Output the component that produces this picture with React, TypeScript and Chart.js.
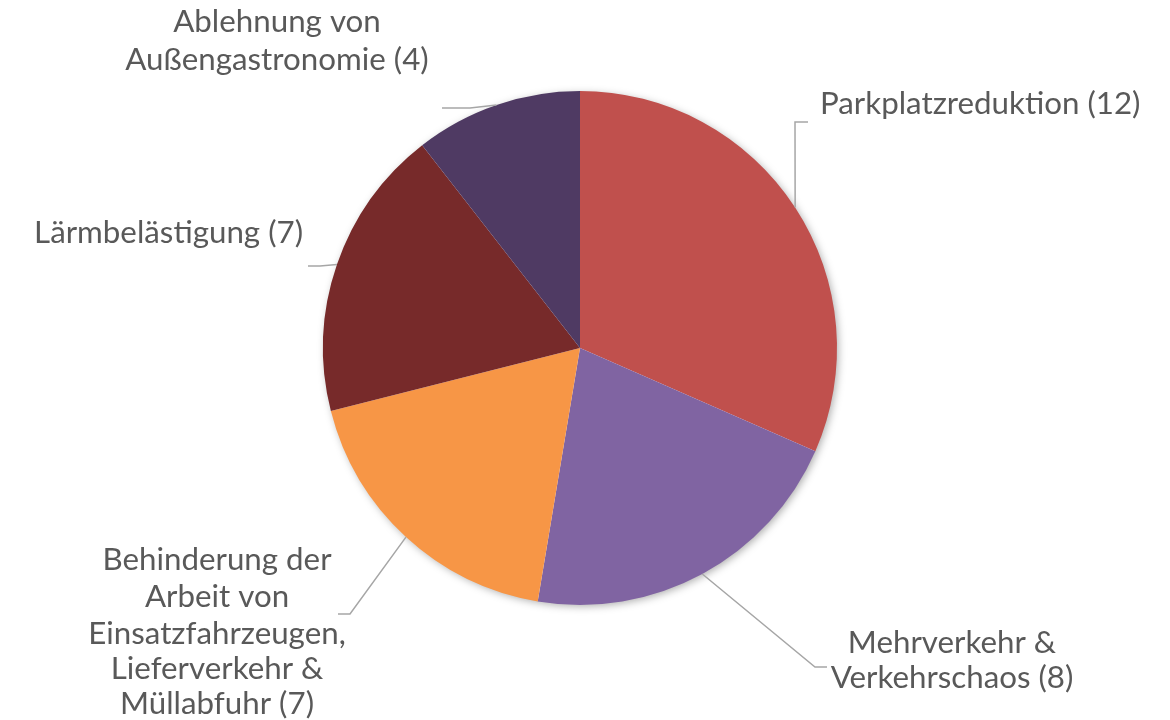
import React, { useEffect, useRef } from "react";
import { Chart, registerables } from "chart.js";

Chart.register(...registerables);

const categories: string[] = [
  "Parkplatzreduktion",
  "Mehrverkehr & Verkehrschaos",
  "Behinderung der Arbeit von Einsatzfahrzeugen, Lieferverkehr & Müllabfuhr",
  "Lärmbelästigung",
  "Ablehnung von Außengastronomie",
];
const values: number[] = [12, 8, 7, 7, 4];
const labelLines: string[][] = [
  ["Parkplatzreduktion (12)"],
  ["Mehrverkehr &", "Verkehrschaos (8)"],
  ["Behinderung der", "Arbeit von", "Einsatzfahrzeugen,", "Lieferverkehr &", "Müllabfuhr (7)"],
  ["Lärmbelästigung (7)"],
  ["Ablehnung von", "Außengastronomie (4)"],
];
const colors: string[] = ["#C0504D", "#8064A2", "#F79646", "#772A2A", "#4F3A63"];

// label placement (layout only)
const labelLayout = [
  { align: "left", x: 820, ys: [104], elbow: [795, 122], end: [808, 122] },
  { align: "center", x: 952, ys: [643, 678], elbow: [815, 667], end: [827, 667] },
  { align: "center", x: 217, ys: [560, 597, 634, 669, 704], elbow: [350, 614], end: [338, 614] },
  { align: "right", x: 303, ys: [233], elbow: [320, 266], end: [308, 266] },
  { align: "center", x: 277, ys: [22, 60], elbow: [470, 108], end: [442, 108] },
];

const FONT_FAMILY = "Lato, 'Noto Sans', sans-serif";
const TEXT_COLOR = "#595959";
const LINE_COLOR = "#A6A6A6";

const pieShadow = {
  id: "pieShadow",
  beforeDatasetsDraw(chart: any) {
    const meta = chart.getDatasetMeta(0);
    const arc = meta.data[0];
    if (!arc) return;
    const { x, y, outerRadius } = arc.getProps(["x", "y", "outerRadius"], true);
    const ctx = chart.ctx;
    ctx.save();
    ctx.shadowColor = "rgba(0,0,0,0.35)";
    ctx.shadowBlur = 8;
    ctx.shadowOffsetX = 2;
    ctx.shadowOffsetY = 2;
    ctx.fillStyle = "#ffffff";
    ctx.beginPath();
    ctx.arc(x, y, outerRadius - 1, 0, Math.PI * 2);
    ctx.fill();
    ctx.restore();
  },
};

const outerLabels = {
  id: "outerLabels",
  afterDatasetsDraw(chart: any) {
    const ctx = chart.ctx;
    const meta = chart.getDatasetMeta(0);
    // pick font size so that the reference width of the first label is matched
    ctx.save();
    ctx.font = `100px ${FONT_FAMILY}`;
    const w100 = ctx.measureText(labelLines[0][0]).width;
    const size = Math.round((320 / w100) * 100 * 10) / 10;
    ctx.restore();

    meta.data.forEach((arc: any, i: number) => {
      const lay = labelLayout[i];
      if (!lay) return;
      const { x, y, startAngle, endAngle, outerRadius } = arc.getProps(
        ["x", "y", "startAngle", "endAngle", "outerRadius"],
        true
      );
      const mid = (startAngle + endAngle) / 2;
      const sx = x + Math.cos(mid) * outerRadius;
      const sy = y + Math.sin(mid) * outerRadius;
      ctx.save();
      ctx.strokeStyle = LINE_COLOR;
      ctx.lineWidth = 1.5;
      ctx.beginPath();
      ctx.moveTo(sx, sy);
      ctx.lineTo(lay.elbow[0], lay.elbow[1]);
      ctx.lineTo(lay.end[0], lay.end[1]);
      ctx.stroke();

      ctx.fillStyle = TEXT_COLOR;
      ctx.font = `${size}px ${FONT_FAMILY}`;
      ctx.textAlign = lay.align as CanvasTextAlign;
      ctx.textBaseline = "middle";
      labelLines[i].forEach((line, j) => {
        ctx.fillText(line, lay.x, lay.ys[j]);
      });
      ctx.restore();
    });
  },
};

export default function App() {
  const ref = useRef<HTMLCanvasElement | null>(null);
  useEffect(() => {
    document.body.style.margin = "0";
    const canvas = ref.current;
    if (!canvas) return;
    const chart = new Chart(canvas, {
      type: "pie",
      data: {
        labels: categories,
        datasets: [
          {
            data: values,
            backgroundColor: colors,
            borderWidth: 0,
          },
        ],
      },
      options: {
        responsive: false,
        animation: false,
        devicePixelRatio: 1,
        rotation: 0,
        layout: { padding: { left: 323, right: 333, top: 91, bottom: 115 } },
        plugins: {
          legend: { display: false },
          tooltip: { enabled: false },
          title: { display: false },
        },
      },
      plugins: [pieShadow, outerLabels],
    });
    return () => chart.destroy();
  }, []);
  return (
    <div style={{ width: 1170, height: 720, background: "#ffffff" }}>
      <canvas ref={ref} width={1170} height={720} />
    </div>
  );
}
